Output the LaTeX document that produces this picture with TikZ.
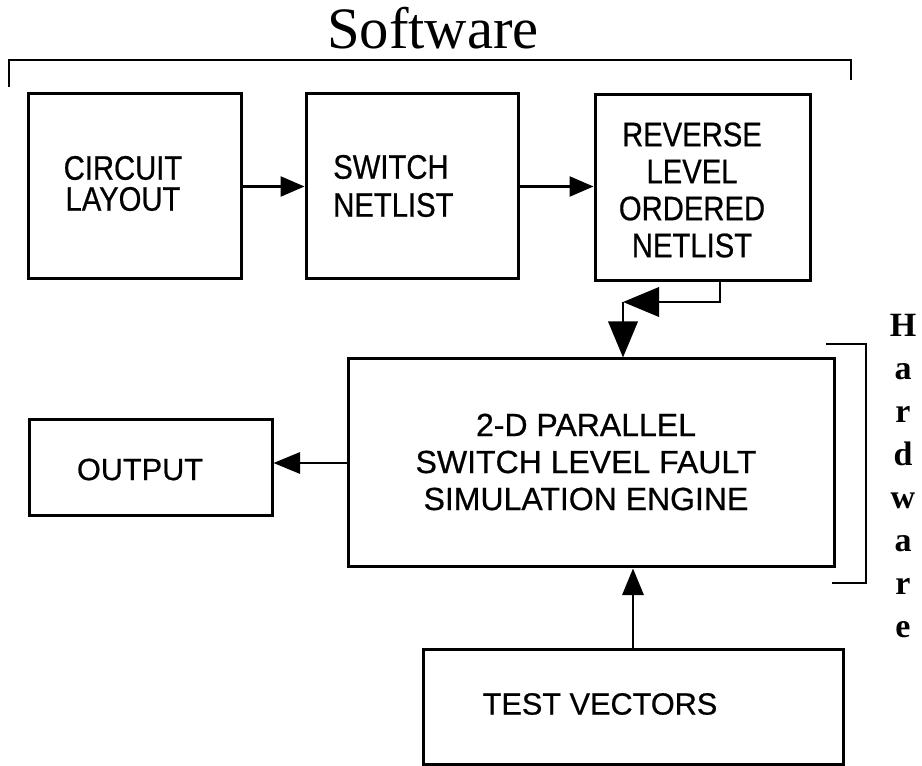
\documentclass[tikz,border=0pt]{standalone}
\usepackage{fontspec}
\setmainfont{Liberation Serif}
\setsansfont[FakeBold=0.6]{Liberation Sans}
\newfontfamily\narrowsans[FakeStretch=0.86,FakeBold=0.6]{Liberation Sans}
\usetikzlibrary{arrows.meta}

\begin{document}
\begin{tikzpicture}[x=0.75pt,y=-0.75pt,
  box/.style={draw, line width=2.25pt, inner sep=0pt},
  lbl/.style={inner sep=0pt, align=center, font=\sffamily\fontsize{24}{27.75}\selectfont},
  toplbl/.style={inner sep=0pt, align=center, font=\narrowsans\fontsize{25.5}{27.75}\selectfont},
  link/.style={line width=1.9pt, -{Triangle[length=18pt,width=15pt]}},
  midlink/.style={line width=1.9pt, -{Triangle[length=20pt,width=16pt]}},
  biglink/.style={line width=1.9pt, -{Triangle[length=27pt,width=22pt]}},
  bracket/.style={line width=2.2pt},
]
\useasboundingbox (0,0) rectangle (922,766);

% --- software stage boxes
\node[box, minimum width=159.75pt, minimum height=138.75pt] (cl) at (134.5,186.5) {};
\node[box, minimum width=159pt,    minimum height=138.75pt] (sw) at (412,186.5) {};
\node[box, minimum width=161.25pt, minimum height=139.5pt]  (rv) at (702.5,188) {};

% --- hardware engine, output and stimulus
\node[box, minimum width=364.5pt, minimum height=156pt]  (eng) at (591,463) {};
\node[box, minimum width=182.25pt, minimum height=72pt]  (out) at (150.5,468) {};
\node[box, minimum width=315pt,   minimum height=85.5pt] (tv)  at (633,707) {};

% --- box labels
\node[toplbl, font=\narrowsans\fontsize{25.5}{23.25}\selectfont] (cltext) at (123,183.5) {CIRCUIT\\LAYOUT};
\node[toplbl, align=left, anchor=west, font=\narrowsans\fontsize{25.5}{28.5}\selectfont] (swtext) at (333,186) {SWITCH\\NETLIST};
\node[toplbl] (rvtext) at (692,190) {REVERSE\\LEVEL\\ORDERED\\NETLIST};
\node[lbl] (engtext) at (586,462) {2-D PARALLEL\\SWITCH LEVEL FAULT\\SIMULATION ENGINE};
\node[lbl, font=\sffamily\fontsize{23}{27}\selectfont] (outtext) at (140,469.5) {OUTPUT};
\node[lbl, font=\sffamily\fontsize{23}{27}\selectfont] (tvtext) at (600,704) {TEST VECTORS};

% --- data flow
\draw[link] (cl.east) -- (sw.west);
\draw[link] (sw.east) -- (sw.east -| rv.west);
\coordinate (fbcorner) at (720,302);
\coordinate (fbtip) at (623,302);
\draw[biglink] (rv.south -| fbcorner) |- (fbtip);
\draw[biglink] (fbtip) -- (fbtip |- eng.north);
\draw[midlink] (eng.west) -- (eng.west -| out.east);
\draw[midlink] (tv.north) -- (tv.north |- eng.south);

% --- grouping brackets
\draw[bracket] (9,87) |- (851,60) -- (851,80);
\node[inner sep=0pt, anchor=base, font=\rmfamily\fontsize{44}{44}\selectfont] (swlabel) at (433,49) {Software};
\draw[bracket] (826,344) -| (866,583) -- (832,583);
\node[inner sep=0pt, anchor=north, align=center, font=\rmfamily\bfseries\fontsize{25.5}{32.25}\selectfont] (hwlabel) at (903,314) {H\\a\\r\\d\\w\\a\\r\\e};
\end{tikzpicture}
\end{document}
